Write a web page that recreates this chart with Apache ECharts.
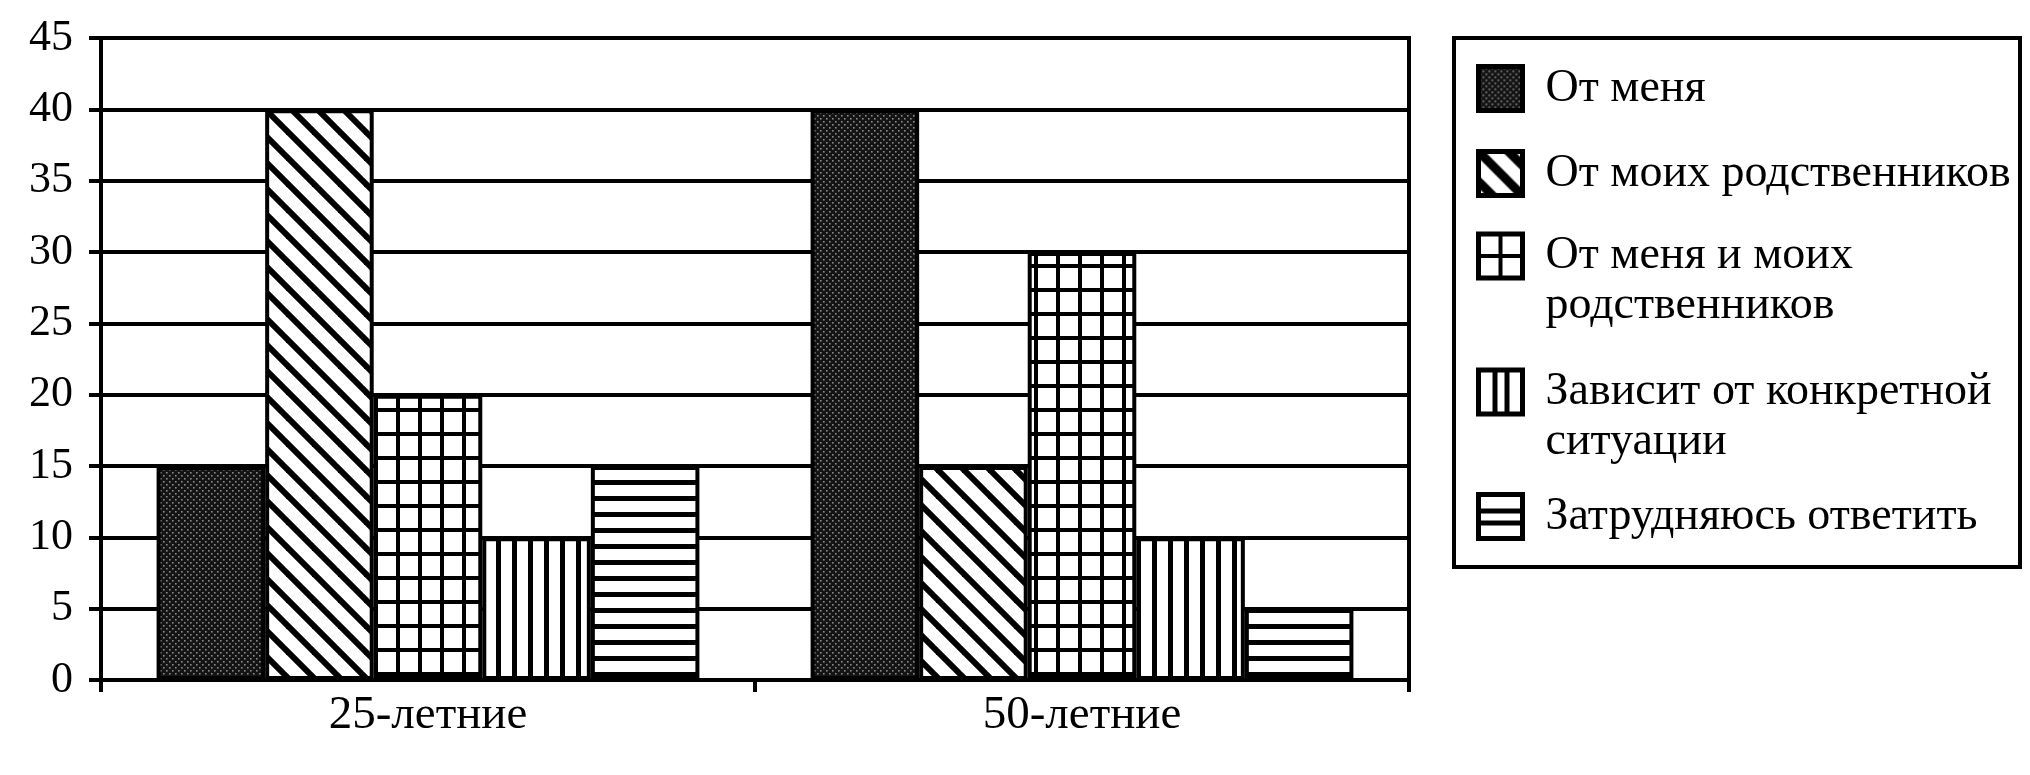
<!DOCTYPE html>
<html>
<head>
<meta charset="utf-8">
<script src="https://cdn.jsdelivr.net/npm/echarts@6/dist/echarts.min.js"></script>
<style>
html,body{margin:0;padding:0;background:#fff;}
#chart{width:2030px;height:775px;}
</style>
</head>
<body>
<div id="chart"></div>
<script>
const categories = ['25-летние', '50-летние'];
const seriesNames = ['От меня', 'От моих родственников', 'От меня и моих родственников', 'Зависит от конкретной ситуации', 'Затрудняюсь ответить'];
const legendLines = [['От меня'], ['От моих родственников'], ['От меня и моих', 'родственников'], ['Зависит от конкретной', 'ситуации'], ['Затрудняюсь ответить']];
const valuesMe = [15, 40];
const valuesRelatives = [40, 15];
const valuesBoth = [20, 30];
const valuesDepends = [10, 10];
const valuesHard = [15, 5];
const yTicks = [0, 5, 10, 15, 20, 25, 30, 35, 40, 45];

const seriesValues = [valuesMe, valuesRelatives, valuesBoth, valuesDepends, valuesHard];

function tile(w, h, draw) {
  const c = document.createElement('canvas');
  c.width = w; c.height = h;
  const ctx = c.getContext('2d');
  ctx.fillStyle = '#fff';
  ctx.fillRect(0, 0, w, h);
  draw(ctx, w, h);
  return c;
}
function stipple(ctx, w, h) {
  ctx.fillStyle = '#141414'; ctx.fillRect(0, 0, w, h);
  ctx.fillStyle = '#8c8c8c';
  for (let y = 0; y < h; y += 6) {
    for (let x = 0; x < w; x += 6) {
      ctx.fillRect(x + 1, y + 1, 1.6, 1.6);
      ctx.fillRect(x + 4, y + 4, 1.6, 1.6);
    }
  }
}
function diag(ctx, w, h, lw, offsets) {
  ctx.strokeStyle = '#000'; ctx.lineWidth = lw;
  offsets.forEach(k => {
    ctx.beginPath();
    ctx.moveTo(-w, -w + k);
    ctx.lineTo(2 * w, 2 * w + k);
    ctx.stroke();
  });
}
// bar fill patterns
const patStipple = tile(6, 6, stipple);
const patDiag = tile(26, 26, (ctx, w, h) => diag(ctx, w, h, 6, [-w, 0, w]));
const patGrid = tile(22, 24, (ctx, w, h) => {
  ctx.fillStyle = '#000';
  ctx.fillRect(0, 0, 4, h);
  ctx.fillRect(0, 0, w, 4);
});
const patVert = tile(16, 16, (ctx, w, h) => { ctx.fillStyle = '#000'; ctx.fillRect(0, 0, 5, h); });
const patHorz = tile(16, 16, (ctx, w, h) => { ctx.fillStyle = '#000'; ctx.fillRect(0, 0, w, 5); });
const patterns = [patStipple, patDiag, patGrid, patVert, patHorz];

// legend icon patterns (one icon-sized tile each)
const IS = 44;
const iconPatterns = [
  tile(IS, IS, stipple),
  tile(IS, IS, (ctx, w, h) => diag(ctx, w, h, 9, [-30, 0, 30])),
  tile(IS, IS, (ctx, w, h) => { ctx.fillStyle = '#000'; ctx.fillRect(20, 0, 4, h); ctx.fillRect(0, 20, w, 4); }),
  tile(IS, IS, (ctx, w, h) => { ctx.fillStyle = '#000'; ctx.fillRect(14, 0, 5, h); ctx.fillRect(26, 0, 5, h); }),
  tile(IS, IS, (ctx, w, h) => { ctx.fillStyle = '#000'; ctx.fillRect(0, 14, w, 5); ctx.fillRect(0, 26, w, 5); })
];

const FONT = '"Liberation Serif", "DejaVu Serif", serif';

const series = seriesNames.map((name, i) => ({
  name: name,
  type: 'bar',
  data: seriesValues[i],
  barGap: '0%',
  barCategoryGap: '17%',
  itemStyle: {
    color: { image: patterns[i], repeat: 'repeat' },
    borderColor: '#000',
    borderWidth: 4
  },
  emphasis: { disabled: true }
}));

// legend icon centers (px)
const legendCenters = [89, 174, 258, 394, 517];
const LH = 50;
const legends = seriesNames.map((name, i) => {
  const lines = legendLines[i];
  const twoLine = lines.length > 1;
  const text = twoLine
    ? '{s| }\n' + lines.map(l => '{a|' + l + '}').join('\n')
    : '{a|' + lines[0] + '}';
  return {
    orient: 'vertical',
    left: 1476,
    top: twoLine ? legendCenters[i] - 1.5 * LH : legendCenters[i] - LH / 2,
    padding: 0,
    itemGap: 0,
    itemWidth: IS,
    itemHeight: IS,
    selectedMode: false,
    data: [{
      name: name,
      icon: 'rect',
      itemStyle: { color: { image: iconPatterns[i], repeat: 'no-repeat' }, borderColor: '#000', borderWidth: 5 }
    }],
    formatter: () => text,
    textStyle: {
      fontFamily: FONT,
      fontSize: 46,
      color: '#000',
      padding: [0, 0, 0, 18],
      rich: {
        a: { fontFamily: FONT, fontSize: 46, lineHeight: LH, color: '#000' },
        s: { fontFamily: FONT, fontSize: 46, lineHeight: LH, color: '#000' }
      }
    }
  };
});

const chart = echarts.init(document.getElementById('chart'), null, { renderer: 'canvas' });
chart.setOption({
  animation: false,
  backgroundColor: '#fff',
  grid: {
    left: 101, right: 621, top: 38, bottom: 95,
    show: true, borderColor: '#000', borderWidth: 4, backgroundColor: 'transparent'
  },
  legend: legends,
  graphic: [{
    type: 'rect',
    shape: { x: 1454, y: 38, width: 566, height: 529 },
    style: { fill: 'none', stroke: '#000', lineWidth: 4 },
    z: 10
  }],
  xAxis: {
    type: 'category',
    data: categories,
    axisLine: { lineStyle: { color: '#000', width: 4 } },
    axisTick: { show: true, length: 12, lineStyle: { color: '#000', width: 4 } },
    axisLabel: { fontFamily: FONT, fontSize: 47, color: '#000', margin: 12 }
  },
  yAxis: {
    type: 'value',
    min: yTicks[0],
    max: yTicks[yTicks.length - 1],
    interval: 5,
    axisLine: { show: true, lineStyle: { color: '#000', width: 4 } },
    axisTick: { show: true, length: 12, lineStyle: { color: '#000', width: 4 } },
    splitLine: { show: true, lineStyle: { color: '#000', width: 4 } },
    axisLabel: { fontFamily: FONT, fontSize: 44, color: '#000', margin: 28 }
  },
  series: series
});
</script>
</body>
</html>
